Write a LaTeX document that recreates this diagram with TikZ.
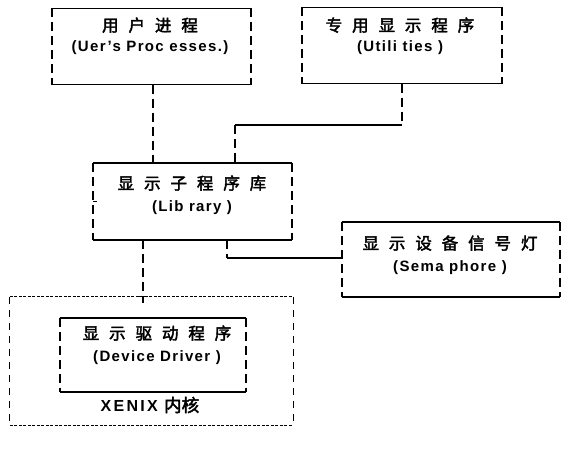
\documentclass[tikz,border=0pt]{standalone}
\usepackage{fontspec}
\setmainfont{Liberation Sans}
\newfontfamily\cjk{Noto Sans CJK SC}[Scale=1.1, AutoFakeBold=2.5]
\newfontfamily\latn{Liberation Sans}[LetterSpace=9]
\usetikzlibrary{positioning}
\newcommand\zgap{\hspace{0.6em}}

\begin{document}
\begin{tikzpicture}[x=1pt,y=-1pt,
  box/.style={inner sep=0pt},
  rule/.style={line width=1.5pt},
  side/.style={line width=1.5pt, dash pattern=on 9pt off 5pt},
  link/.style={line width=1.5pt, dash pattern=on 9pt off 5pt},
  wire/.style={line width=1.3pt},
  krule/.style={line width=1.2pt, dash pattern=on 3pt off 1.5pt},
  kside/.style={line width=1.3pt, dash pattern=on 7pt off 6pt},
  txt/.style={align=center, inner sep=0pt, font=\fontsize{15}{18}\selectfont\bfseries}]
\useasboundingbox (0,0) rectangle (566,458);

% boxes
\node[box, minimum width=199pt, minimum height=76pt] (user) at (151.5,46.5) {};
\node[box, minimum width=200pt, minimum height=76pt] (util) at (402,45.5) {};
\node[box, minimum width=199pt, minimum height=77pt] (lib) at (192.5,201.5) {};
\node[box, minimum width=218pt, minimum height=75pt] (sema) at (451,259.5) {};
\node[box, minimum width=283pt, minimum height=128pt] (kernel) at (151.5,361) {};
\node[box, minimum width=186pt, minimum height=74pt] (drv) at (153,355) {};

\foreach \b in {user,util,lib,sema,drv} {
  \draw[rule] (\b.north west) -- (\b.north east) (\b.south west) -- (\b.south east);
  \draw[side] (\b.north west) -- (\b.south west) (\b.north east) -- (\b.south east);
}
\draw[krule] (kernel.north west) -- (kernel.north east) (kernel.south west) -- (kernel.south east);
\draw[kside] (kernel.north west) -- (kernel.south west) (kernel.north east) -- (kernel.south east);

% texts
\node[txt] (userT) at (150,36) {{\cjk 用\zgap 户\zgap 进\zgap 程}\\[2pt]{\latn (Uer’s Proc esses.)}};
\node[txt] (utilT) at (400,36) {{\cjk 专\zgap 用\zgap 显\zgap 示\zgap 程\zgap 序}\\[2pt]{\latn (Utili ties )}};
\node[txt] (libT) at (192,195) {{\cjk 显\zgap 示\zgap 子\zgap 程\zgap 序\zgap 库}\\[4pt]{\latn (Lib rary )}};
\node[txt] (semaT) at (450,255) {{\cjk 显\zgap 示\zgap 设\zgap 备\zgap 信\zgap 号\zgap 灯}\\[4pt]{\latn (Sema phore )}};
\node[txt] (drvT) at (157,345) {{\cjk 显\zgap 示\zgap 驱\zgap 动\zgap 程\zgap 序}\\[4pt]{\latn (Device Driver )}};
\node[txt, font=\fontsize{16}{19}\selectfont\bfseries] (kernelT) at (150,405) {{\latn\addfontfeature{LetterSpace=14}XENIX}\hspace{0.4em}{\cjk 内核}};

% connectors
\coordinate (uC) at (153,125);
\coordinate (uA) at (402,125);
\coordinate (uB) at (235,125);
\coordinate (dA) at (143,303);
\coordinate (sA) at (227,258);
\draw[link] (user.south -| uC) -- (uC |- lib.north);
\draw[link] (util.south) -- (uA);
\draw[wire] (uA) -- (uB);
\draw[link] (uB) -- (uB |- lib.north);
\draw[link] (lib.south -| dA) -- (dA);
\draw[wire] (dA |- kernel.north) ++(-4,0) -- ++(8,0);
\draw[link] (lib.south -| sA) -- (sA);
\draw[wire] (sA) -- (sA -| sema.west);
\draw[wire] (lib.west) -- ++(4,0);
\end{tikzpicture}
\end{document}
